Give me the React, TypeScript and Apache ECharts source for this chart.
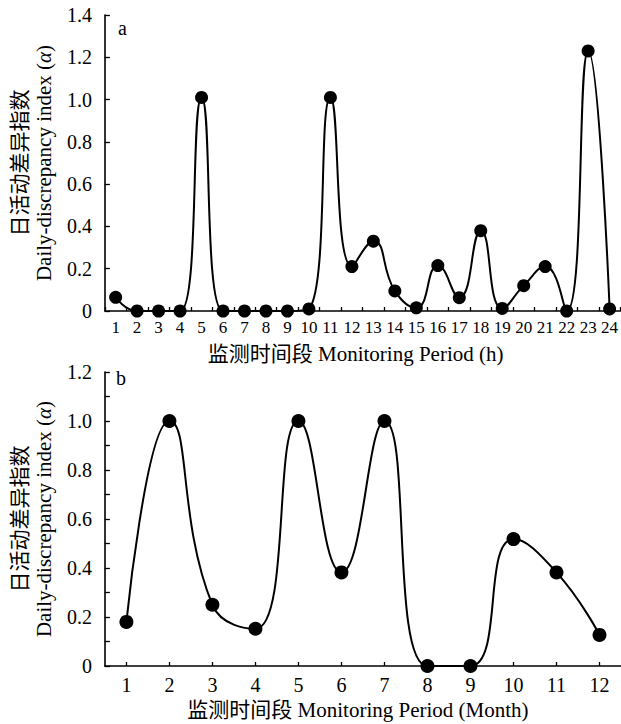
import React, { useEffect, useRef } from "react";
import * as echarts from "echarts";

const hours = ["1","2","3","4","5","6","7","8","9","10","11","12","13","14","15","16","17","18","19","20","21","22","23","24"];
const hourValues = [0.065, 0, 0, 0, 1.01, 0, 0, 0, 0, 0.01, 1.01, 0.21, 0.33, 0.095, 0.015, 0.215, 0.063, 0.38, 0.012, 0.12, 0.21, 0, 1.23, 0.01];
const months = ["1","2","3","4","5","6","7","8","9","10","11","12"];
const monthValues = [0.18, 1.0, 0.25, 0.152, 1.0, 0.382, 1.0, 0, 0, 0.518, 0.382, 0.127];

const yNameText = "日活动差异指数\nDaily-discrepancy index ({i|α})";
const xNameTop = "监测时间段 Monitoring Period (h)";
const xNameBottom = "监测时间段 Monitoring Period (Month)";

const FONT = "Liberation Serif, Noto Sans CJK SC, serif";

export default function App() {
  const ref = useRef<HTMLDivElement>(null);
  useEffect(() => {
    document.body.style.margin = "0";
    if (!ref.current) return;
    const chart = echarts.init(ref.current, undefined, { renderer: "svg" });
    const axisLine = { show: true, lineStyle: { color: "#000", width: 1.6 } };
    const yName = {
      name: yNameText,
      nameLocation: "middle" as const,
      nameGap: 48,
      nameTextStyle: {
        fontFamily: FONT,
        fontSize: 21,
        color: "#000",
        lineHeight: 24,
        rich: { i: { fontStyle: "italic", fontFamily: FONT, fontSize: 21, lineHeight: 24, color: "#000" } },
      },
    };
    const yLabel = {
      fontFamily: FONT,
      fontSize: 20,
      color: "#000",
      margin: 13,
      formatter: (v: number) => (v === 0 ? "0" : v.toFixed(1)),
    };
    chart.setOption({
      animation: false,
      backgroundColor: "#fff",
      textStyle: { fontFamily: FONT },
      grid: [
        { left: 100, right: 0, top: 15, height: 296 },
        { left: 100, right: 0, top: 372, height: 294 },
      ],
      xAxis: [
        {
          type: "category",
          gridIndex: 0,
          data: hours,
          boundaryGap: true,
          axisLine,
          axisTick: { show: true, inside: true, length: 4, lineStyle: { color: "#000", width: 1.3 } },
          axisLabel: { interval: 0, fontFamily: FONT, fontSize: 17, color: "#000", margin: 8 },
          name: xNameTop,
          nameLocation: "middle",
          nameGap: 32,
          nameTextStyle: { fontFamily: FONT, fontSize: 21, color: "#000", padding: [0, 14, 0, 0] },
        },
        {
          type: "category",
          gridIndex: 1,
          data: months,
          boundaryGap: true,
          axisLine,
          axisTick: { show: true, inside: true, alignWithLabel: true, length: 4, lineStyle: { color: "#000", width: 1.3 } },
          axisLabel: { interval: 0, fontFamily: FONT, fontSize: 20, color: "#000", margin: 9 },
          name: xNameBottom,
          nameLocation: "middle",
          nameGap: 33,
          nameTextStyle: { fontFamily: FONT, fontSize: 21, color: "#000", padding: [0, 10, 0, 0] },
        },
      ],
      yAxis: [
        {
          type: "value",
          gridIndex: 0,
          min: 0,
          max: 1.4,
          interval: 0.2,
          axisLine,
          splitLine: { show: false },
          axisTick: { show: true, inside: true, length: 5, lineStyle: { color: "#000", width: 1.3 } },
          axisLabel: yLabel,
          ...yName,
        },
        {
          type: "value",
          gridIndex: 1,
          min: 0,
          max: 1.2,
          interval: 0.2,
          axisLine,
          splitLine: { show: false },
          axisTick: { show: true, inside: true, length: 5, lineStyle: { color: "#000", width: 1.3 } },
          minorTick: { show: true, splitNumber: 2, length: 5, lineStyle: { color: "#000", width: 1.3 } },
          axisLabel: yLabel,
          ...yName,
        },
      ],
      series: [
        {
          type: "line",
          xAxisIndex: 0,
          yAxisIndex: 0,
          data: hourValues,
          smooth: 0.5,
          symbol: "circle",
          symbolSize: 13,
          itemStyle: { color: "#000" },
          lineStyle: { color: "#000", width: 2 },
          z: 5,
        },
        {
          type: "line",
          xAxisIndex: 1,
          yAxisIndex: 1,
          data: monthValues,
          smooth: 0.5,
          symbol: "circle",
          symbolSize: 14,
          itemStyle: { color: "#000" },
          lineStyle: { color: "#000", width: 2 },
          z: 5,
        },
      ],
      graphic: [
        { type: "text", left: 118, top: 18, style: { text: "a", fontFamily: FONT, fontSize: 20, fill: "#000" } },
        { type: "text", left: 116, top: 368, style: { text: "b", fontFamily: FONT, fontSize: 20, fill: "#000" } },
      ],
    });
    return () => chart.dispose();
  }, []);
  return <div ref={ref} style={{ width: 621, height: 724 }} />;
}
